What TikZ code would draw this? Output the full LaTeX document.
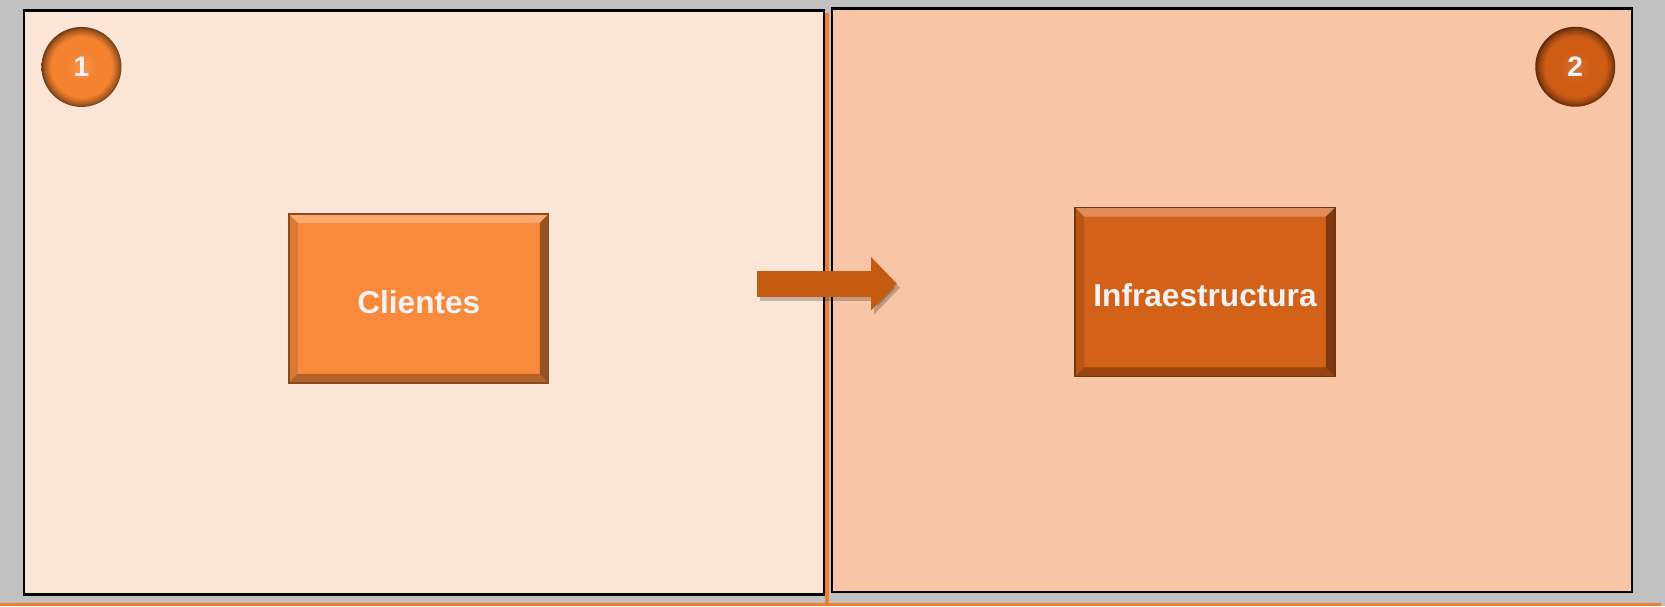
\documentclass[tikz,border=0pt]{standalone}
\usepackage{fontspec}
\setmainfont{Liberation Sans}
\usetikzlibrary{arrows.meta, positioning, calc}
\definecolor{slidegray}{HTML}{C0C0C0}
\definecolor{lineorange}{HTML}{ED7D31}
\definecolor{leftpeach}{HTML}{FBE5D6}
\definecolor{rightpeach}{HTML}{F8C6A6}
\definecolor{clientorange}{HTML}{F98A3B}
\definecolor{infraorange}{HTML}{D36118}
\definecolor{badgeone}{HTML}{F4822F}
\definecolor{badgetwo}{HTML}{CF5C15}
\definecolor{arrowbrown}{HTML}{C55A11}
\definecolor{labelwhite}{HTML}{F2F2F2}
\def\labelfont{\fontsize{18}{21}\selectfont\bfseries}
\def\badgefont{\fontsize{16}{19}\selectfont\bfseries}
% glossy discs
\pgfdeclareradialshading{orbone}{\pgfpoint{0bp}{0bp}}{color(0bp)=(badgeone!85!white); color(10bp)=(badgeone); color(19bp)=(badgeone); color(23bp)=(badgeone!70!black); color(25bp)=(badgeone!45!black); color(50bp)=(badgeone!45!black)}
\pgfdeclareradialshading{orbtwo}{\pgfpoint{0bp}{0bp}}{color(0bp)=(badgetwo!85!white); color(10bp)=(badgetwo); color(19bp)=(badgetwo); color(23bp)=(badgetwo!70!black); color(25bp)=(badgetwo!45!black); color(50bp)=(badgetwo!45!black)}
\tikzset{
	bevel/.style = {
		path picture = {
			\fill[white, opacity = .28] (path picture bounding box.north west) -- (path picture bounding box.north east) -- ([shift = {(-.18cm,-.18cm)}]path picture bounding box.north east) -- ([shift = {(.18cm,-.18cm)}]path picture bounding box.north west) -- cycle;
			\fill[black, opacity = .4] (path picture bounding box.north east) -- (path picture bounding box.south east) -- ([shift = {(-.18cm,.18cm)}]path picture bounding box.south east) -- ([shift = {(-.18cm,-.18cm)}]path picture bounding box.north east) -- cycle;
			\fill[black, opacity = .28] (path picture bounding box.south west) -- (path picture bounding box.south east) -- ([shift = {(-.18cm,.18cm)}]path picture bounding box.south east) -- ([shift = {(.18cm,.18cm)}]path picture bounding box.south west) -- cycle;
			\fill[black, opacity = .12] (path picture bounding box.north west) -- (path picture bounding box.south west) -- ([shift = {(.18cm,.18cm)}]path picture bounding box.south west) -- ([shift = {(.18cm,-.18cm)}]path picture bounding box.north west) -- cycle;
		}
	}
}

\begin{document}
\begin{tikzpicture}
	[
	x = 0.02cm, y = -0.02cm,
	panel/.style = {rectangle, draw, line width = 1.5pt, inner sep = 0cm, minimum width = 16cm, minimum height = 11.68cm},
	block/.style = {rectangle, fill = #1, draw = #1!55!black, line width = .8pt, bevel, text = labelwhite, font = \labelfont, text height = 16.8pt, text depth = 0pt, inner sep = 0cm, minimum width = 5.2cm, minimum height = 3.38cm},
	badge/.style = {circle, shading = #1, text = labelwhite, font = \badgefont, inner sep = 0cm, minimum size = 1.6cm},
	bigtip/.style = {line width = .52cm, -{Triangle[length = .52cm, width = 1.04cm]}}
	]
	
	% slide background and orange rules
	\fill[slidegray] (0,0) rectangle (1665,606);
	\useasboundingbox (0,0) rectangle (1665,606);
	\fill[lineorange] (0,603) rectangle (1661,606);
	\fill[lineorange] (825.3,13) rectangle (829.3,606);
	
	\node[panel, fill = leftpeach] (clientside) at (424,302.6) {};
	\node[panel, fill = rightpeach] (infraside) at (1232,300.2) {};
	
	\node[block = clientorange] (clientes) at (418.8,298.4) {Clientes};
	\node[block = infraorange] (infra) at (1205,292) {Infraestructura};
	
	\node[badge = orbone] (one) at ($(clientside.north west)+(58.7,57.6)$) {1};
	\node[badge = orbtwo] (two) at ($(infraside.north east)+(-58,59.8)$) {2};
	
	\coordinate (arrowtail) at (757,283.7);
	\coordinate (arrowhead) at (897,283.7);
	\draw[bigtip, black, opacity = .22] ([shift = {(3,4)}]arrowtail) -- ([shift = {(3,4)}]arrowhead);
	\draw[bigtip, arrowbrown] (arrowtail) -- (arrowhead);
\end{tikzpicture}
\end{document}
